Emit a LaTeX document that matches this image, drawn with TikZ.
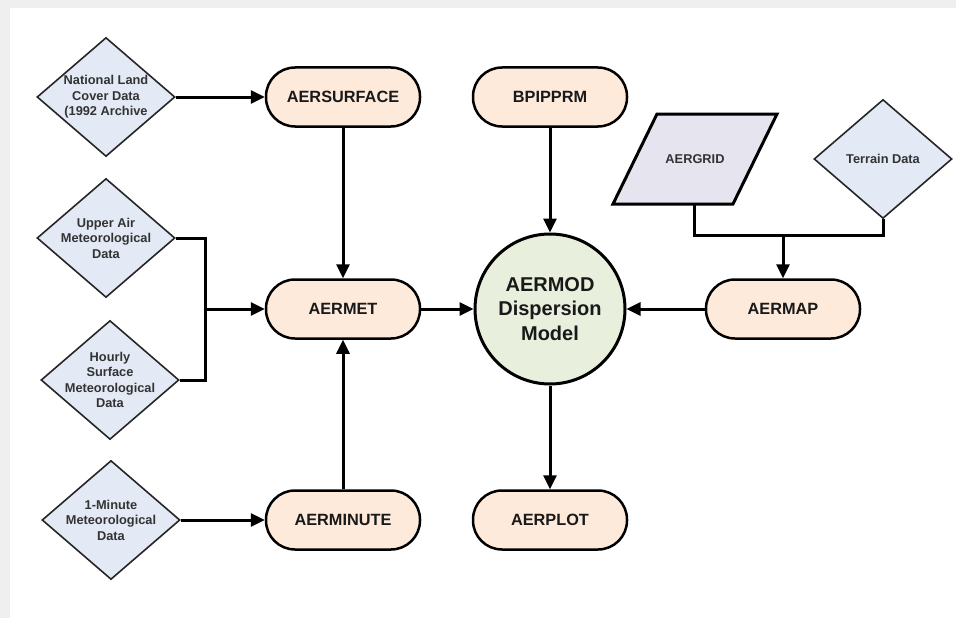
\documentclass[tikz,border=0pt]{standalone}
\usepackage{fontspec}
\setmainfont{Liberation Sans}
\usetikzlibrary{shapes.geometric,arrows.meta}
\definecolor{dfill}{HTML}{E3EAF6}
\definecolor{bfill}{HTML}{FDEADB}
\definecolor{cfill}{HTML}{E8F0DD}
\definecolor{pfill}{HTML}{E6E4EE}
\definecolor{edgegray}{HTML}{EFEFEF}
\begin{document}
\begin{tikzpicture}[x=1pt,y=-1pt,
 dia/.style={diamond, draw=black!85, line width=1.6pt, fill=dfill, minimum width=138pt, minimum height=119pt, inner sep=0pt},
 dtext/.style={align=center, inner sep=0pt, font=\fontsize{12.8}{15.5}\selectfont\bfseries, text=black!80},
 pill/.style={rectangle, rounded corners=29pt, draw=black, line width=2.5pt, fill=bfill, minimum width=154pt, minimum height=59pt, inner sep=0pt, font=\fontsize{16.3}{19}\selectfont\bfseries, text=black!90},
 arr/.style={line width=3pt, -{Triangle[length=14pt,width=13pt]}},
 ln/.style={line width=3pt, line join=miter}]
\useasboundingbox (0,0) rectangle (956,618);
\fill[edgegray] (0,0) rectangle (956,8);
\fill[edgegray] (0,0) rectangle (10,618);

% diamonds
\node[dia] (d1) at (106,97) {};
\node[dtext] (t1) at (d1) {National Land\\Cover Data\\(1992 Archive};
\node[dia] (d2) at (106,238) {};
\node[dtext] (t2) at (d2) {Upper Air\\Meteorological\\Data};
\node[dia] (d3) at (110,380) {};
\node[dtext] (t3) at (d3) {Hourly\\Surface\\Meteorological\\Data};
\node[dia] (d4) at (111,520) {};
\node[dtext] (t4) at (d4) {1-Minute\\Meteorological\\Data};
\node[dia] (d5) at (883,159) {};
\node[dtext] (t5) at (d5) {Terrain Data};

% parallelogram
\draw[line width=3pt, fill=pfill, line join=miter] (657,114) -- (777,114) -- (733,204) -- (613,204) -- cycle;
\node[dtext] (ag) at (695,159) {AERGRID};
\coordinate (agb) at (694,204);

% pills
\node[pill] (sur) at (343,97) {AERSURFACE};
\node[pill] (met) at (343,309) {AERMET};
\node[pill] (min) at (343,520) {AERMINUTE};
\node[pill] (bpi) at (550,97) {BPIPPRM};
\node[pill] (plo) at (550,520) {AERPLOT};
\node[pill] (map) at (783,309) {AERMAP};

% circle
\node[circle, draw=black, line width=3pt, fill=cfill, minimum size=150pt, inner sep=0pt, align=center,
 font=\fontsize{20}{24.5}\selectfont\bfseries, text=black!90] (mod) at (550,309) {AERMOD\\Dispersion\\Model};

% connectors
\draw[arr] (d1.east) -- (sur.west);
\draw[arr] (d4.east) -- (min.west);
\draw[ln] (d2.east) -- (205,238) -- (205,380) -- (d3.east);
\coordinate (j) at (205,309);
\draw[arr] (j) -- (met.west);
\draw[arr] (sur.south) -- (met.north);
\draw[arr] (min.north) -- (met.south);
\draw[arr] (met.east) -- (mod.west);
\draw[arr] (bpi.south) -- (mod.north);
\draw[arr] (mod.south) -- (plo.north);
\draw[arr] (map.west) -- (mod.east);
\draw[ln] (agb) -- (694,235) -- (883,235) -- (d5.south);
\coordinate (j2) at (783,235);
\draw[arr] (j2) -- (map.north);
\end{tikzpicture}
\end{document}
